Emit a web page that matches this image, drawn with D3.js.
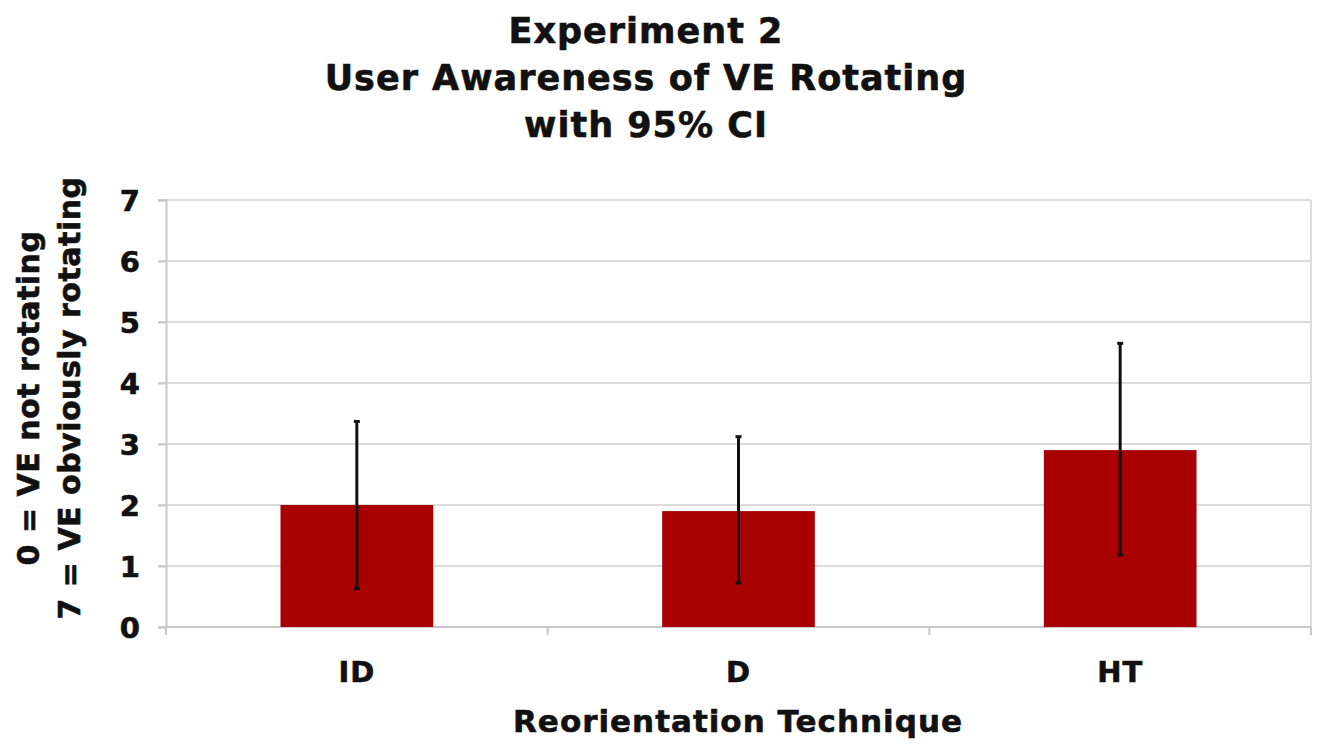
<!DOCTYPE html>
<html>
<head>
<meta charset="utf-8">
<script src="https://cdn.jsdelivr.net/npm/d3@7"></script>
<style>
  body { margin: 0; background: #fff; }
  text { font-family: "DejaVu Sans", Verdana, sans-serif; font-weight: bold; fill: #111; stroke: #111; stroke-width: 0.6px; }
</style>
</head>
<body>
<svg id="chart" width="1320" height="747"></svg>
<script>
// data
const categories = ['ID', 'D', 'HT']
const means = [2.0, 1.9, 2.9]
const ciLow = [0.63, 0.72, 1.18]
const ciHigh = [3.37, 3.12, 4.65]
const yTicks = [0, 1, 2, 3, 4, 5, 6, 7]
const titleLines = ['Experiment 2', 'User Awareness of VE Rotating', 'with 95% CI']
const yTitleLines = ['0 = VE not rotating', '7 = VE obviously rotating']
const xTitle = 'Reorientation Technique'

const margin = { top: 200, right: 9, bottom: 120, left: 166 }
const width = 1320 - margin.left - margin.right
const height = 747 - margin.top - margin.bottom

const svg = d3.select('#chart')
const g = svg.append('g')
    .attr('transform', 'translate(' + margin.left + ',' + margin.top + ')')

const x = d3.scaleBand()
    .domain(categories)
    .range([0, width])
    .paddingInner(0.6)
    .paddingOuter(0.3)

const y = d3.scaleLinear()
    .domain([0, 7])
    .range([height, 0])

// gridlines
g.append('g')
    .selectAll('line')
    .data(yTicks)
    .join('line')
    .attr('x1', -8)
    .attr('x2', width)
    .attr('y1', function (d) { return y(d) })
    .attr('y2', function (d) { return y(d) })
    .attr('stroke', '#dcdcdc')
    .attr('stroke-width', 2)

// right border
g.append('line')
    .attr('x1', width).attr('x2', width)
    .attr('y1', 0).attr('y2', height)
    .attr('stroke', '#dcdcdc')
    .attr('stroke-width', 2)

// y axis
const yAxis = g.append('g')
    .call(d3.axisLeft(y).tickValues(yTicks).tickFormat(d3.format('d')).tickSize(8).tickPadding(18))
yAxis.select('.domain').attr('stroke', '#c8c8c8').attr('stroke-width', 2)
yAxis.selectAll('.tick line').attr('stroke', '#c8c8c8').attr('stroke-width', 2)
yAxis.selectAll('.tick text')
    .attr('font-size', 29)
    .attr('font-family', '"DejaVu Sans", Verdana, sans-serif')
    .attr('font-weight', 'bold')
    .attr('fill', '#111')
    .attr('dy', '0.36em')

// x axis: category boundary ticks
const boundaries = [0].concat(categories.map(function (c) { return x(c) + x.bandwidth() / 2 + x.step() / 2 }))
g.append('line')
    .attr('x1', 0).attr('x2', width)
    .attr('y1', height).attr('y2', height)
    .attr('stroke', '#c8c8c8')
    .attr('stroke-width', 2)
g.append('g')
    .selectAll('line')
    .data(boundaries)
    .join('line')
    .attr('x1', function (d) { return d })
    .attr('x2', function (d) { return d })
    .attr('y1', height)
    .attr('y2', height + 8)
    .attr('stroke', '#c8c8c8')
    .attr('stroke-width', 2)

g.append('g')
    .selectAll('text')
    .data(categories)
    .join('text')
    .attr('x', function (d) { return x(d) + x.bandwidth() / 2 })
    .attr('y', height + 55)
    .attr('text-anchor', 'middle')
    .attr('font-size', 29)
    .attr('letter-spacing', 1)
    .text(function (d) { return d })

// bars
g.append('g')
    .selectAll('rect')
    .data(categories)
    .join('rect')
    .attr('x', function (d) { return x(d) })
    .attr('y', function (d, i) { return y(means[i]) })
    .attr('width', x.bandwidth())
    .attr('height', function (d, i) { return height - y(means[i]) })
    .attr('fill', '#a80000')

// error bars
const err = g.append('g')
err.selectAll('.ci')
    .data(categories)
    .join('line')
    .attr('class', 'ci')
    .attr('x1', function (d) { return x(d) + x.bandwidth() / 2 })
    .attr('x2', function (d) { return x(d) + x.bandwidth() / 2 })
    .attr('y1', function (d, i) { return y(ciLow[i]) })
    .attr('y2', function (d, i) { return y(ciHigh[i]) })
    .attr('stroke', '#111')
    .attr('stroke-width', 3)
err.selectAll('.capTop')
    .data(categories)
    .join('line')
    .attr('class', 'capTop')
    .attr('x1', function (d) { return x(d) + x.bandwidth() / 2 - 3 })
    .attr('x2', function (d) { return x(d) + x.bandwidth() / 2 + 3 })
    .attr('y1', function (d, i) { return y(ciHigh[i]) })
    .attr('y2', function (d, i) { return y(ciHigh[i]) })
    .attr('stroke', '#111')
    .attr('stroke-width', 3)
err.selectAll('.capBottom')
    .data(categories)
    .join('line')
    .attr('class', 'capBottom')
    .attr('x1', function (d) { return x(d) + x.bandwidth() / 2 - 3 })
    .attr('x2', function (d) { return x(d) + x.bandwidth() / 2 + 3 })
    .attr('y1', function (d, i) { return y(ciLow[i]) })
    .attr('y2', function (d, i) { return y(ciLow[i]) })
    .attr('stroke', '#111')
    .attr('stroke-width', 3)

// title
svg.append('g')
    .selectAll('text')
    .data(titleLines)
    .join('text')
    .attr('x', 646)
    .attr('y', function (d, i) { return 43 + i * 47 })
    .attr('text-anchor', 'middle')
    .attr('font-size', 35)
    .attr('letter-spacing', 1)
    .text(function (d) { return d })

// y title
svg.append('g')
    .selectAll('text')
    .data(yTitleLines)
    .join('text')
    .attr('transform', function (d, i) { return 'translate(' + (39 + i * 41) + ',398) rotate(-90)' })
    .attr('text-anchor', 'middle')
    .attr('font-size', 30)
    .attr('letter-spacing', 0.5)
    .text(function (d) { return d })

// x title
svg.append('text')
    .attr('x', 738)
    .attr('y', 732)
    .attr('text-anchor', 'middle')
    .attr('font-size', 31)
    .attr('letter-spacing', 1)
    .text(xTitle)
</script>
</body>
</html>
